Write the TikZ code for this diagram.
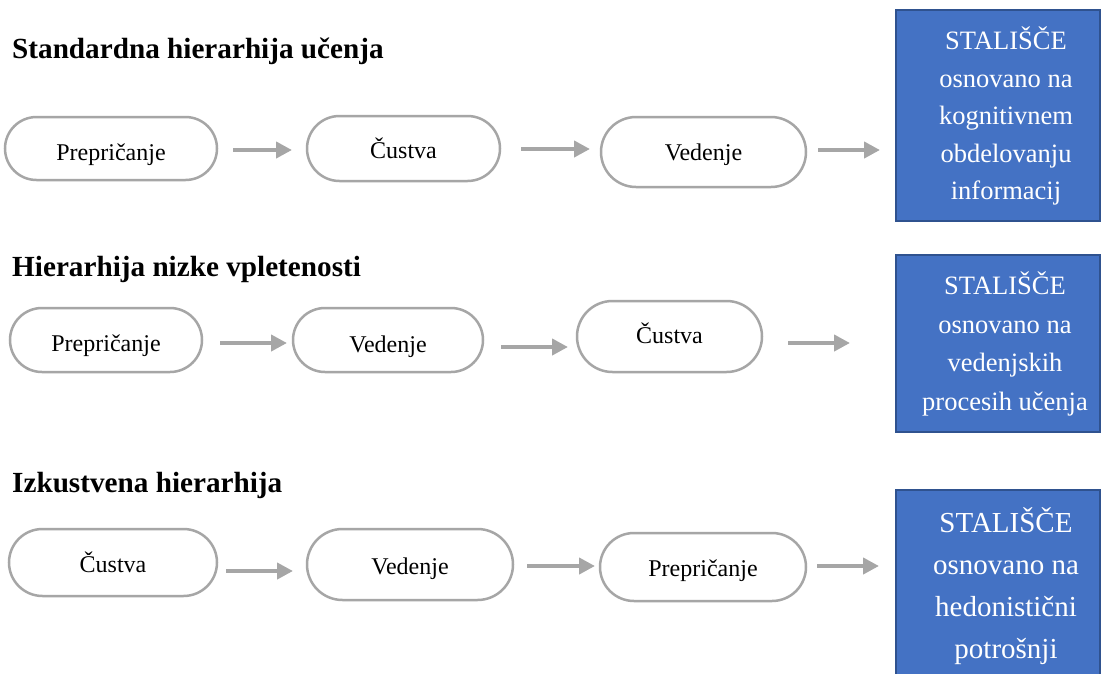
\documentclass[tikz,border=0pt]{standalone}
\usepackage{fontspec}
\setmainfont{Liberation Serif}
\usetikzlibrary{arrows.meta,shapes.misc}
\definecolor{bord}{HTML}{A6A6A6}
\definecolor{blfill}{HTML}{4472C4}
\definecolor{bldraw}{HTML}{2F528F}
\tikzset{
  pill/.style={draw=bord, line width=2.5pt, rounded rectangle, fill=white,
    font=\fontsize{24}{28}\selectfont, inner sep=0pt, text height=20pt, text depth=0pt},
  flow/.style={draw=bord, line width=4.5pt, -{Triangle[length=16pt,width=16pt]}},
  bluebox/.style={draw=bldraw, fill=blfill, line width=2pt, inner sep=0pt},
  bluetext/.style={text=white, align=center, inner sep=0pt},
  title/.style={font=\fontsize{29.2}{32}\selectfont\bfseries, inner sep=0pt, anchor=base west}
}
\begin{document}
\begin{tikzpicture}[x=1pt,y=-1pt]
\useasboundingbox (0,0) rectangle (1101,673);
\fill[white] (0,0) rectangle (1101,673);

% titles
\node[title] (t1) at (12,58) {Standardna hierarhija učenja};
\node[title] (t2) at (12,276) {Hierarhija nizke vpletenosti};
\node[title] (t3) at (12,492) {Izkustvena hierarhija};

% row 1
\node[pill, minimum width=212pt, minimum height=63pt, text height=24pt] (a1) at (111,148.5) {Prepričanje};
\node[pill, minimum width=193pt, minimum height=65pt] (a2) at (403.5,148.5) {Čustva};
\node[pill, minimum width=205pt, minimum height=70pt, text height=16pt] (a3) at (703.5,152) {Vedenje};
\node[bluebox, minimum width=204pt, minimum height=211pt] (k1) at (998,115.5) {};
\node[bluetext, font=\fontsize{26.5}{37.5}\selectfont] (k1t) at (1006,116)
  {STALIŠČE\\osnovano na\\kognitivnem\\obdelovanju\\informacij};

\coordinate (a1s) at (233,150); \coordinate (a1e) at (292,150);
\coordinate (a2s) at (521,149); \coordinate (a2e) at (590,149);
\coordinate (a3s) at (818,150); \coordinate (a3e) at (880,150);
\draw[flow] (a1s) -- (a1e);
\draw[flow] (a2s) -- (a2e);
\draw[flow] (a3s) -- (a3e);

% row 2
\node[pill, minimum width=192pt, minimum height=64pt, text height=22pt] (b1) at (106,340) {Prepričanje};
\node[pill, minimum width=190pt, minimum height=64pt, text height=24pt] (b2) at (388,340) {Vedenje};
\node[pill, minimum width=185pt, minimum height=71pt, text height=13pt] (b3) at (669.5,336.5) {Čustva};
\node[bluebox, minimum width=204pt, minimum height=177pt] (k2) at (998,343.5) {};
\node[bluetext, font=\fontsize{26.5}{38.5}\selectfont] (k2t) at (1005,344)
  {STALIŠČE\\osnovano na\\vedenjskih\\procesih učenja};

\coordinate (b1s) at (220,343); \coordinate (b1e) at (287,343);
\coordinate (b2s) at (501,347); \coordinate (b2e) at (568,347);
\coordinate (b3s) at (788,343); \coordinate (b3e) at (850,343);
\draw[flow] (b1s) -- (b1e);
\draw[flow] (b2s) -- (b2e);
\draw[flow] (b3s) -- (b3e);

% row 3
\node[pill, minimum width=208pt, minimum height=67pt] (c1) at (113,562.5) {Čustva};
\node[pill, minimum width=206pt, minimum height=71pt] (c2) at (410,564.5) {Vedenje};
\node[pill, minimum width=206pt, minimum height=68pt, text height=18pt] (c3) at (703,567) {Prepričanje};
\node[bluebox, minimum width=204pt, minimum height=186pt] (k3) at (998,583) {};
\node[bluetext, font=\fontsize{29}{42}\selectfont] (k3t) at (1006,586)
  {STALIŠČE\\osnovano na\\hedonistični\\potrošnji};

\coordinate (c1s) at (226,571); \coordinate (c1e) at (293,571);
\coordinate (c2s) at (527,566); \coordinate (c2e) at (595,566);
\coordinate (c3s) at (817,566); \coordinate (c3e) at (879,566);
\draw[flow] (c1s) -- (c1e);
\draw[flow] (c2s) -- (c2e);
\draw[flow] (c3s) -- (c3e);
\end{tikzpicture}
\end{document}
